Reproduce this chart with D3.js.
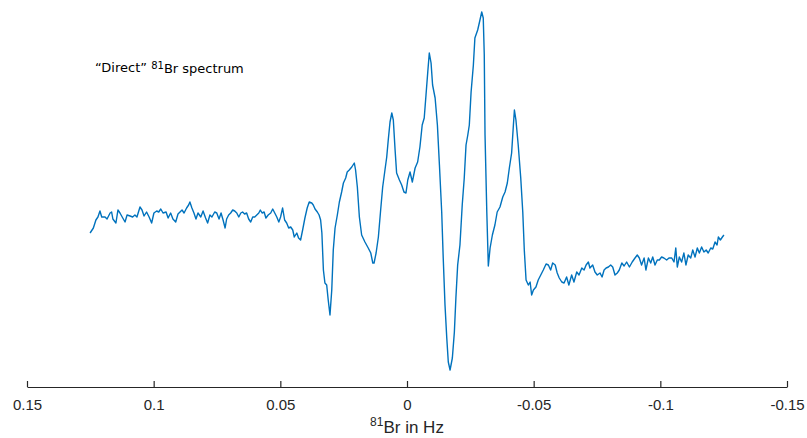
<!DOCTYPE html>
<html>
<head>
<meta charset="utf-8">
<script src="https://cdn.jsdelivr.net/npm/d3@7"></script>
<style>
  body { margin: 0; background: #fff; }
  svg { display: block; }
</style>
</head>
<body>
<svg class="chart"></svg>
<script>
// frequency offset (Hz) and intensity (arb. units)
const freq = [
  0.1251, 0.1238, 0.1228, 0.1220, 0.1212, 0.1205, 0.1192, 0.1184, 0.1172, 0.1166,
  0.1161, 0.1149, 0.1141, 0.1133, 0.1122, 0.1113, 0.1105, 0.1093, 0.1083, 0.1074,
  0.1066, 0.1054, 0.1046, 0.1038, 0.1028, 0.1018, 0.1008, 0.0999, 0.0988, 0.0980,
  0.0972, 0.0963, 0.0951, 0.0943, 0.0933, 0.0924, 0.0913, 0.0904, 0.0896, 0.0888,
  0.0880, 0.0870, 0.0862, 0.0857, 0.0849, 0.0841, 0.0833, 0.0825, 0.0814, 0.0805,
  0.0795, 0.0787, 0.0778, 0.0770, 0.0759, 0.0751, 0.0742, 0.0734, 0.0726, 0.0718,
  0.0712, 0.0704, 0.0696, 0.0688, 0.0680, 0.0672, 0.0664, 0.0656, 0.0649, 0.0641,
  0.0633, 0.0625, 0.0617, 0.0609, 0.0601, 0.0593, 0.0585, 0.0579, 0.0572, 0.0564,
  0.0557, 0.0548, 0.0538, 0.0530, 0.0522, 0.0514, 0.0506, 0.0499, 0.0491, 0.0483,
  0.0475, 0.0467, 0.0459, 0.0451, 0.0445, 0.0435, 0.0428, 0.0420, 0.0412, 0.0403,
  0.0394, 0.0386, 0.0376, 0.0370, 0.0363, 0.0354, 0.0347, 0.0341, 0.0336, 0.0330,
  0.0324, 0.0317, 0.0311, 0.0304, 0.0297, 0.0291, 0.0284, 0.0275, 0.0267, 0.0258,
  0.0251, 0.0242, 0.0236, 0.0228, 0.0218, 0.0208, 0.0203, 0.0196, 0.0188, 0.0179,
  0.0166, 0.0153, 0.0143, 0.0135, 0.0130, 0.0122, 0.0113, 0.0104, 0.0096, 0.0087,
  0.0080, 0.0074, 0.0067, 0.0060, 0.0054, 0.0047, 0.0041, 0.0030, 0.0021, 0.0012,
  0.0004, -0.0003, -0.0012, -0.0021, -0.0032, -0.0042, -0.0051, -0.0060, -0.0068, -0.0075,
  -0.0082, -0.0088, -0.0095, -0.0101, -0.0111, -0.0120, -0.0128, -0.0137, -0.0143, -0.0150,
  -0.0157, -0.0163, -0.0170, -0.0179, -0.0187, -0.0193, -0.0200, -0.0209, -0.0218, -0.0226,
  -0.0233, -0.0240, -0.0246, -0.0253, -0.0262, -0.0268, -0.0279, -0.0288, -0.0295, -0.0301,
  -0.0305, -0.0308, -0.0315, -0.0321, -0.0328, -0.0337, -0.0347, -0.0356, -0.0367, -0.0378,
  -0.0387, -0.0396, -0.0404, -0.0413, -0.0420, -0.0424, -0.0430, -0.0439, -0.0449, -0.0457,
  -0.0463, -0.0470, -0.0479, -0.0486, -0.0492, -0.0499, -0.0509, -0.0518, -0.0528, -0.0538,
  -0.0549, -0.0558, -0.0567, -0.0575, -0.0585, -0.0593, -0.0601, -0.0611, -0.0620, -0.0630,
  -0.0639, -0.0650, -0.0659, -0.0670, -0.0679, -0.0690, -0.0699, -0.0707, -0.0716, -0.0722,
  -0.0733, -0.0742, -0.0751, -0.0762, -0.0770, -0.0778, -0.0786, -0.0795, -0.0804, -0.0812,
  -0.0821, -0.0830, -0.0838, -0.0848, -0.0857, -0.0867, -0.0878, -0.0889, -0.0900, -0.0909,
  -0.0917, -0.0926, -0.0936, -0.0943, -0.0953, -0.0962, -0.0970, -0.0979, -0.0988, -0.0996,
  -0.1005, -0.1014, -0.1025, -0.1034, -0.1045, -0.1054, -0.1061, -0.1067, -0.1075, -0.1084,
  -0.1093, -0.1101, -0.1110, -0.1120, -0.1128, -0.1137, -0.1146, -0.1154, -0.1163, -0.1172,
  -0.1181, -0.1189, -0.1199, -0.1207, -0.1216, -0.1224, -0.1229, -0.1237, -0.1245, -0.1251
];

const intensity = [
  -0.11, -0.06, 0.02, 0.05, 0.11, 0.05, 0.05, 0.03, 0.09, 0.10,
  0.03, -0.01, 0.12, 0.09, 0.04, 0.00, 0.07, 0.06, 0.05, 0.07,
  0.05, 0.15, 0.12, 0.06, 0.10, 0.05, -0.01, 0.09, 0.11, 0.10,
  0.13, 0.09, 0.10, 0.04, 0.09, 0.03, 0.00, 0.08, 0.10, 0.12,
  0.09, 0.14, 0.17, 0.20, 0.14, 0.09, 0.03, 0.09, 0.05, 0.11,
  0.04, -0.01, 0.07, 0.05, 0.10, 0.09, 0.03, 0.09, 0.02, -0.06,
  0.03, 0.07, 0.09, 0.12, 0.11, 0.09, 0.05, 0.09, 0.10, 0.08,
  0.09, 0.03, 0.00, 0.05, 0.05, 0.07, 0.09, 0.12, 0.09, 0.10,
  0.04, 0.07, 0.09, 0.13, 0.09, 0.05, 0.00, 0.05, 0.14, 0.02,
  -0.01, -0.06, -0.05, -0.08, -0.15, -0.11, -0.16, -0.18, -0.08, 0.04,
  0.14, 0.20, 0.19, 0.17, 0.13, 0.10, 0.07, 0.02, -0.11, -0.48,
  -0.61, -0.63, -0.78, -0.93, -0.68, -0.28, -0.06, 0.07, 0.20, 0.30,
  0.39, 0.44, 0.50, 0.52, 0.55, 0.59, 0.52, 0.35, 0.05, -0.13,
  -0.20, -0.26, -0.31, -0.41, -0.41, -0.31, -0.15, 0.12, 0.35, 0.52,
  0.65, 0.82, 1.00, 1.09, 1.02, 0.72, 0.49, 0.42, 0.37, 0.30,
  0.29, 0.42, 0.50, 0.40, 0.54, 0.60, 0.75, 0.97, 1.04, 1.27,
  1.50, 1.69, 1.59, 1.37, 1.24, 0.97, 0.57, 0.10, -0.36, -0.83,
  -1.16, -1.40, -1.48, -1.36, -1.10, -0.76, -0.43, -0.23, 0.17, 0.44,
  0.77, 0.87, 0.97, 1.30, 1.57, 1.84, 1.92, 2.02, 2.10, 2.04,
  1.67, 0.87, 0.10, -0.44, -0.26, -0.13, -0.03, 0.10, 0.15, 0.25,
  0.30, 0.39, 0.54, 0.69, 0.97, 1.12, 1.02, 0.77, 0.44, 0.10,
  -0.28, -0.58, -0.63, -0.60, -0.73, -0.68, -0.65, -0.58, -0.53, -0.48,
  -0.42, -0.43, -0.48, -0.41, -0.43, -0.51, -0.56, -0.60, -0.61, -0.55,
  -0.63, -0.53, -0.60, -0.50, -0.53, -0.46, -0.48, -0.43, -0.40, -0.46,
  -0.43, -0.50, -0.53, -0.51, -0.55, -0.48, -0.46, -0.45, -0.43, -0.45,
  -0.53, -0.51, -0.48, -0.41, -0.44, -0.40, -0.45, -0.40, -0.36, -0.33,
  -0.36, -0.43, -0.36, -0.48, -0.36, -0.41, -0.35, -0.43, -0.38, -0.38,
  -0.35, -0.36, -0.38, -0.36, -0.36, -0.40, -0.26, -0.45, -0.35, -0.40,
  -0.31, -0.43, -0.33, -0.36, -0.28, -0.35, -0.26, -0.31, -0.25, -0.30,
  -0.28, -0.31, -0.26, -0.27, -0.20, -0.23, -0.15, -0.18, -0.15, -0.13
];

const xTicks = [0.15, 0.1, 0.05, 0, -0.05, -0.1, -0.15];
const xTickLabels = ["0.15", "0.1", "0.05", "0", "-0.05", "-0.1", "-0.15"];

const width = 807;
const height = 438;
const margin = { top: 0, right: 20, bottom: 51, left: 27 };
const axisY = height - margin.bottom;

const data = freq.map((f, i) => ({ f: f, v: intensity[i] }));

const svg = d3.select(".chart").attr("width", width).attr("height", height);

// reversed frequency axis, as in NMR plots
const xScale = d3.scaleLinear().domain([0.15, -0.15]).range([margin.left, width - margin.right]);
const yScale = d3.scaleLinear().domain([-1.65, 2.22]).range([axisY, margin.top]);

const xAxis = d3.axisBottom(xScale)
  .tickValues(xTicks)
  .tickFormat((d, i) => xTickLabels[i])
  .tickSizeInner(-6)
  .tickSizeOuter(0)
  .tickPadding(12);

const gx = svg.append("g")
  .attr("class", "x-axis")
  .attr("transform", `translate(0, ${axisY})`)
  .call(xAxis);

gx.select(".domain").attr("stroke", "#262626").attr("stroke-width", 1.2);
gx.selectAll(".tick line").attr("stroke", "#262626").attr("stroke-width", 1.2);
gx.selectAll(".tick text")
  .attr("fill", "#262626")
  .style("font-family", "'Liberation Sans Narrow', 'Arial Narrow', 'Liberation Sans', sans-serif")
  .style("font-size", "15px");

const line = d3.line()
  .x(d => xScale(d.f))
  .y(d => yScale(d.v));

svg.append("path")
  .datum(data)
  .attr("fill", "none")
  .attr("stroke", "#0072BD")
  .attr("stroke-width", 1.4)
  .attr("stroke-linejoin", "round")
  .attr("d", line);

// x axis title with superscript mass number
const xt = svg.append("text")
  .attr("x", xScale(0))
  .attr("y", height - 7)
  .attr("text-anchor", "middle")
  .attr("fill", "#262626")
  .style("font-family", "'Liberation Sans Narrow', 'Arial Narrow', 'Liberation Sans', sans-serif")
  .style("font-size", "17px");
xt.append("tspan").attr("dy", "-0.4em").style("font-size", "12px").text("81");
xt.append("tspan").attr("dy", "0.4em").text("Br in Hz");

// annotation
const note = svg.append("text")
  .attr("x", 95)
  .attr("y", 72)
  .attr("fill", "#000")
  .style("font-family", "'DejaVu Sans', Verdana, sans-serif")
  .style("font-size", "13px");
note.append("tspan").text("\u201CDirect\u201D ");
note.append("tspan").attr("dy", "-0.35em").style("font-size", "10px").text("81");
note.append("tspan").attr("dy", "0.35em").text("Br spectrum");
</script>
</body>
</html>
